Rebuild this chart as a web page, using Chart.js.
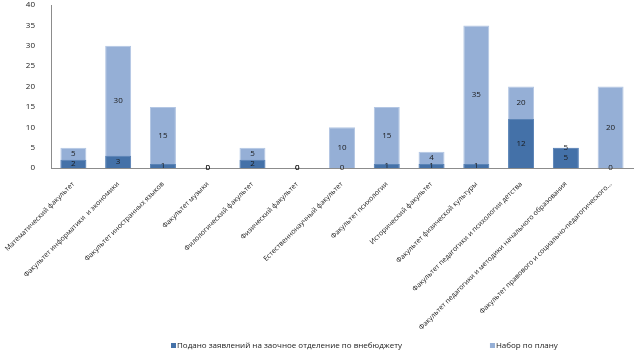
<!DOCTYPE html>
<html>
<head>
<meta charset="utf-8">
<script src="https://cdn.jsdelivr.net/npm/chart.js@4/dist/chart.umd.min.js"></script>
<style>
  html, body { margin: 0; padding: 0; background: #fff; }
  canvas { display: block; }
</style>
</head>
<body>
<canvas id="canvas" width="640" height="359"></canvas>
<script>
var faculties = ["Математический факультет", "Факультет информатики  и экономики",
    "Факультет иностранных языков", "Факультет музыки", "Филологический факультет",
    "Физический факультет", "Естественнонаучный факультет", "Факультет психологии",
    "Исторический факультет", "Факультет физической культуры",
    "Факультет педагогики и психологии детства",
    "Факультет педагогики и методики начального образования",
    "Факультет правового и социально-педагогического..."];
var submitted = [2, 3, 1, 0, 2, 0, 0, 1, 1, 1, 12, 5, 0];
var plan = [5, 30, 15, 0, 5, 0, 10, 15, 4, 35, 20, 5, 20];
var yTicks = [0, 5, 10, 15, 20, 25, 30, 35, 40];

var textColor = "#1a1a1a";
var font = "'Open Sans', sans-serif";

// подписи значений как в Excel: тёмный столбец - по центру,
// светлый - по центру видимой части над тёмным
const valueLabels = {
    id: "valueLabels",
    afterDatasetsDraw(chart) {
        const ctx = chart.ctx;
        const dark = chart.getDatasetMeta(0).data;
        const light = chart.getDatasetMeta(1).data;
        ctx.save();
        ctx.font = "8px " + font;
        ctx.fillStyle = textColor;
        ctx.textAlign = "center";
        ctx.textBaseline = "middle";
        dark.forEach((bar, i) => {
            ctx.fillText(submitted[i], bar.x, (bar.y + bar.base) / 2);
        });
        light.forEach((bar, i) => {
            var low = Math.min(dark[i].y, bar.base);
            ctx.fillText(plan[i], bar.x, (bar.y + low) / 2);
        });
        ctx.restore();
    }
};

// легенда внизу с широким промежутком между пунктами
const bottomLegend = {
    id: "bottomLegend",
    afterDraw(chart) {
        const ctx = chart.ctx;
        var x = 171, y = 346, gap = 88;
        ctx.save();
        ctx.font = "8px " + font;
        ctx.textBaseline = "middle";
        ctx.textAlign = "left";
        chart.data.datasets.forEach(ds => {
            ctx.fillStyle = ds.backgroundColor;
            ctx.fillRect(x, y - 3, 5, 5);
            ctx.fillStyle = textColor;
            ctx.fillText(ds.label, x + 6, y);
            x += 6 + ctx.measureText(ds.label).width + gap;
        });
        ctx.restore();
    }
};

const canvas = document.getElementById("canvas");
const data = {
    labels: faculties,
    datasets: [
        {
            label: "Подано заявлений на заочное отделение по внебюджету",
            backgroundColor: "#4471a8",
            borderColor: "#5b84b6",
            borderWidth: 1,
            data: submitted,
            grouped: false,
            barPercentage: 0.58,
            categoryPercentage: 1
        },
        {
            label: "Набор по плану",
            backgroundColor: "#95afd6",
            borderColor: "#b3c6e3",
            borderWidth: 1,
            data: plan,
            grouped: false,
            barPercentage: 0.58,
            categoryPercentage: 1
        }
    ]
};
const options = {
    responsive: false,
    animation: false,
    layout: { padding: { left: 0, right: 7, top: 5, bottom: 26 } },
    plugins: {
        tooltip: { enabled: false },
        legend: { display: false }
    },
    scales: {
        x: {
            grid: { display: false },
            border: { color: "#8c8c8c" },
            afterFit: function (scale) { scale.height = 165; },
            ticks: {
                autoSkip: false, maxRotation: 45, minRotation: 45, padding: 4,
                color: textColor,
                font: { family: font, size: 7 }
            }
        },
        y: {
            min: 0, max: 40,
            grid: { display: false },
            border: { color: "#8c8c8c" },
            afterFit: function (scale) {
                scale.width = 51;
                scale.paddingTop = 0;
                scale.paddingBottom = 0;
            },
            afterBuildTicks: function (scale) {
                scale.ticks = yTicks.map(v => ({ value: v }));
            },
            ticks: {
                padding: 8,
                color: textColor,
                font: { family: font, size: 8 }
            }
        }
    }
};
const chart = new Chart(canvas, {
    type: "bar",
    data: data,
    options: options,
    plugins: [valueLabels, bottomLegend]
});
</script>
</body>
</html>
